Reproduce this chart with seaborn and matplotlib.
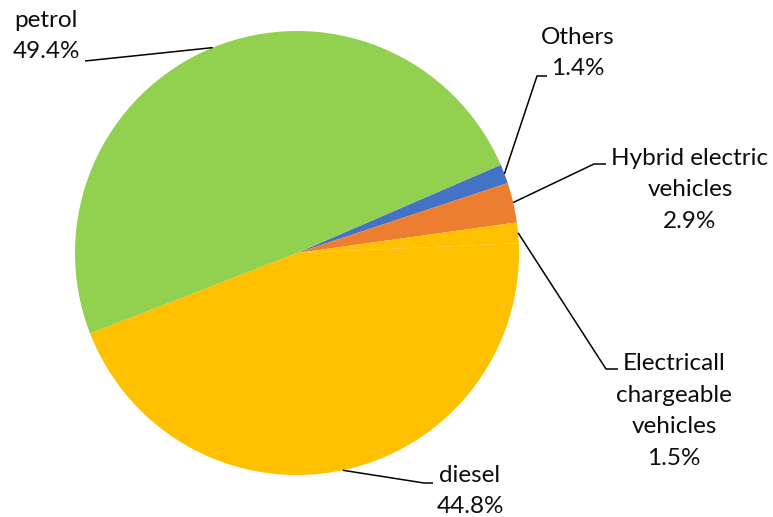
import numpy as np
import matplotlib
matplotlib.use("Agg")
import matplotlib.pyplot as plt
import seaborn as sns

labels = ["Others", "Hybrid electric\nvehicles", "Electricall\nchargeable\nvehicles", "diesel", "petrol"]
values = [1.4, 2.9, 1.5, 44.8, 49.4]
colors = ["#4472C4", "#ED7D31", "#FFC000", "#FFC000", "#92D050"]

sns.set_theme(style="white")
plt.rcParams['font.family'] = ['Lato', 'DejaVu Sans']

W, H = 773, 517
fig = plt.figure(figsize=(W / 100, H / 100), dpi=100)
ax = fig.add_axes([0, 0, 1, 1])
ax.set_xlim(0, W)
ax.set_ylim(0, H)
ax.set_aspect('equal')
ax.axis('off')

cx, cy, R = 297, H - 253, 222
start = 23.4
wedges, _ = ax.pie(values, colors=colors, startangle=start, counterclock=False,
                   center=(cx, cy), radius=R, frame=True,
                   wedgeprops=dict(linewidth=0))
ax.set_xlim(0, W)
ax.set_ylim(0, H)
ax.axis('off')

# label layout (pixel coords, y from top): text center, elbow, end
layout = [
    dict(tx=578, ty=53, elbow=(537, 76), end=(547, 76)),
    dict(tx=690, ty=190, elbow=(594, 164), end=(606, 164)),
    dict(tx=674, ty=411, elbow=(606, 369), end=(618, 369)),
    dict(tx=470, ty=491, elbow=(424, 483), end=(433, 483)),
    dict(tx=46, ty=36, elbow=(85, 61), end=(85, 61)),
]

for w, lab, v, lo in zip(wedges, labels, values, layout):
    ang = np.deg2rad((w.theta1 + w.theta2) / 2)
    sx, sy = cx + R * np.cos(ang), cy + R * np.sin(ang)
    ex, ey = lo['elbow']
    fx, fy = lo['end']
    ax.plot([sx, ex, fx], [sy, H - ey, H - fy], color='black', lw=1.1,
            solid_capstyle='butt')
    ax.text(lo['tx'], H - lo['ty'], f"{lab}\n{v}%", ha='center', va='center',
            fontsize=17.5, color='#0d0d0d', linespacing=1.62)

fig.savefig("out.png", dpi=100)
